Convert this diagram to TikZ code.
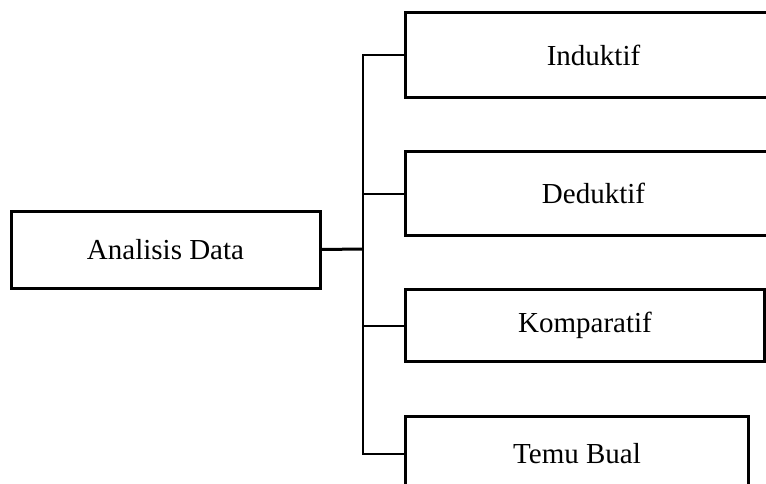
\documentclass[tikz,border=0pt]{standalone}
\usepackage{fontspec}
\setmainfont{Liberation Serif}
\usetikzlibrary{positioning}

\begin{document}
\begin{tikzpicture}[x=1pt, y=1pt, node distance=51pt,
    box/.style = {draw, line width=3pt, rectangle, font=\fontsize{29}{34}\selectfont},
    link/.style = {line width=2pt}]
    \clip (0,0) rectangle (766,-484);
    \useasboundingbox (0,0) rectangle (766,-484);

    \node[box, minimum width=309pt, minimum height=77pt] (data) at (165.5,-249.5) {Analisis Data};

    \node[box, minimum width=376pt, minimum height=85pt, anchor=north west] (induktif) at (404,-11) {Induktif};
    \node[box, minimum width=376pt, minimum height=84pt] (deduktif) [below=of induktif.south west, anchor=north west] {Deduktif};
    \node[box, minimum width=359pt, minimum height=72pt] (komparatif) [below=of deduktif.south west, anchor=north west] {Komparatif};
    \node[box, minimum width=343pt, minimum height=74pt] (temubual) [below=52pt of komparatif.south west, anchor=north west] {Temu Bual};

    \coordinate (hub) at (362.5,-249);

    \draw[line width=3pt] (data.east) -- (hub);
    \draw[link] (induktif.west) -- (induktif.west -| hub) -- (temubual.west -| hub) -- (temubual.west);
    \draw[link] (deduktif.west) -- (deduktif.west -| hub);
    \draw[link] (komparatif.west) -- (komparatif.west -| hub);
\end{tikzpicture}
\end{document}
